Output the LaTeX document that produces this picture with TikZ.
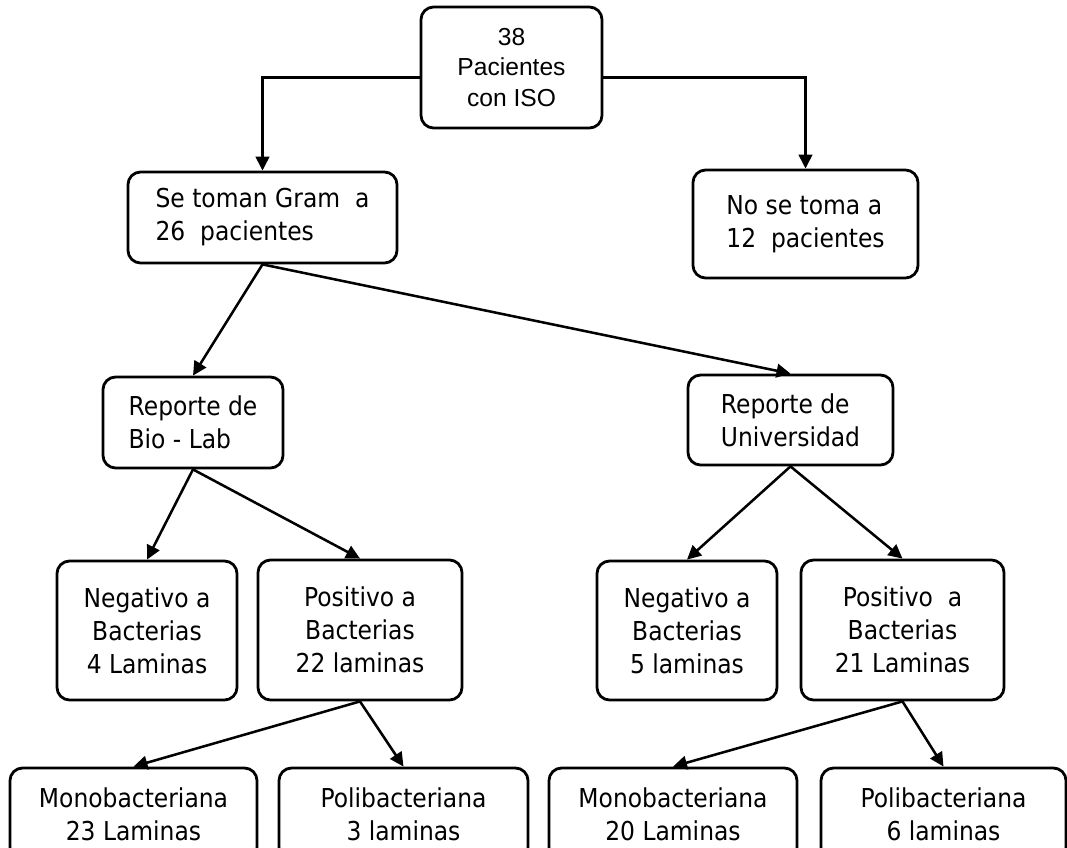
\documentclass[tikz,border=0pt]{standalone}
\usepackage{fontspec}
\setmainfont{DejaVu Sans}[FakeStretch=0.9]
\newfontfamily\arialfont{Liberation Sans}
\usetikzlibrary{arrows.meta}

\begin{document}
\begin{tikzpicture}[line cap=round, x=0.025cm, y=-0.025cm,
    box/.style={draw, line width=2pt, rounded corners=9pt, inner sep=2pt,
      font=\fontsize{18.5}{23.5}\selectfont},
    lbox/.style={box, align=left},
    cbox/.style={box, align=center},
    arr/.style={line width=1.8pt, -{Triangle[length=3.5mm, width=3.4mm]}}]

    \useasboundingbox (0,0) rectangle (1067,848);

    % top
    \node[cbox, font=\arialfont\fontsize{17.5}{22}\selectfont,
      minimum width=4.525cm, minimum height=3.025cm] (root) at (511.5,67.5) {38\\Pacientes\\con ISO};
    \node[lbox, minimum width=6.725cm, minimum height=2.275cm] (gram) at (262.5,217.5) {Se toman Gram\ \ a\\26\ \ pacientes};
    \node[lbox, minimum width=5.625cm, minimum height=2.7cm] (nose) at (805.5,224) {No se toma a\\12\ \ pacientes};

    \draw[arr] ([yshift=-7pt]root.west) -| (gram.north);
    \draw[arr] ([yshift=-7pt]root.east) -| (nose.north);

    % reportes
    \node[lbox, minimum width=4.5cm, minimum height=2.275cm] (biolab) at (193,422.5) {Reporte de\\Bio - Lab};
    \node[lbox, minimum width=5.125cm, minimum height=2.25cm] (univ) at (790.5,420) {Reporte de\\Universidad};

    \draw[arr] (gram.south) -- (biolab.north);
    \draw[arr] (gram.south) -- (univ.north);

    % resultados
    \node[cbox, minimum width=4.5cm, minimum height=3.475cm] (negL) at (147,630.5) {Negativo a\\Bacterias\\4 Laminas};
    \node[cbox, minimum width=5.1cm, minimum height=3.5cm] (posL) at (360,630) {Positivo a\\Bacterias\\22 laminas};
    \node[cbox, minimum width=4.5cm, minimum height=3.475cm] (negR) at (687,630.5) {Negativo a\\Bacterias\\5 laminas};
    \node[cbox, minimum width=5.075cm, minimum height=3.5cm] (posR) at (902.5,630) {Positivo\ \ a\\Bacterias\\21 Laminas};

    \draw[arr] (biolab.south) -- (negL.north);
    \draw[arr] (biolab.south) -- (posL.north);
    \draw[arr] (univ.south) -- (negR.north);
    \draw[arr] (univ.south) -- (posR.north);

    % tipo de bacteria
    \node[cbox, minimum width=6.175cm, minimum height=2.3cm] (monoL) at (133.5,814) {Monobacteriana\\23 Laminas};
    \node[cbox, minimum width=6.225cm, minimum height=2.3cm] (poliL) at (403.5,814) {Polibacteriana\\3 laminas};
    \node[cbox, minimum width=6.2cm, minimum height=2.3cm] (monoR) at (673,814) {Monobacteriana\\20 Laminas};
    \node[cbox, minimum width=6.125cm, minimum height=2.3cm] (poliR) at (943.5,814) {Polibacteriana\\6 laminas};

    \draw[arr] (posL.south) -- (monoL.north);
    \draw[arr] (posL.south) -- (poliL.north);
    \draw[arr] (posR.south) -- (monoR.north);
    \draw[arr] (posR.south) -- (poliR.north);

\end{tikzpicture}
\end{document}
